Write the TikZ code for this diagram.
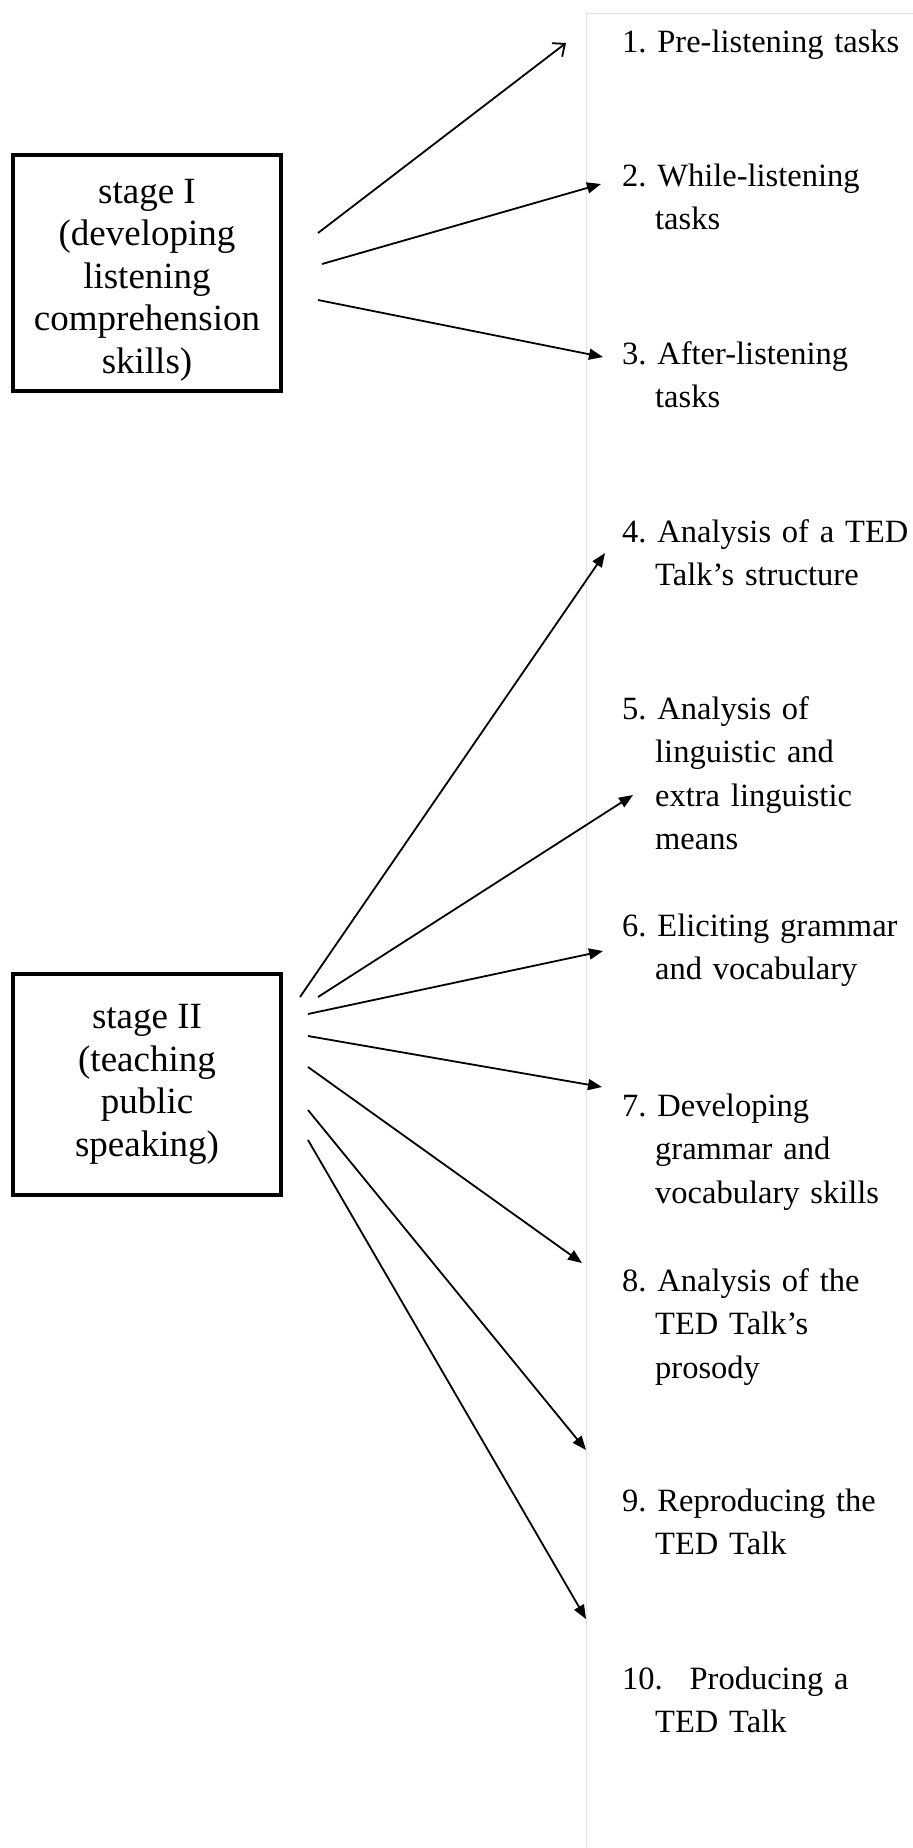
\documentclass[tikz,border=0pt]{standalone}
\usepackage{fontspec}
\setmainfont{Liberation Serif}
\usetikzlibrary{arrows.meta}

\begin{document}
\begin{tikzpicture}[x=1pt,y=-1pt]
  \tikzset{stg/.style={draw,line width=4pt,minimum width=268pt,inner sep=0pt},
    stt/.style={inner sep=0pt,align=center,font=\fontsize{37}{42.5}\selectfont},
    itm/.style={anchor=base west,inner sep=0pt,text width=290pt,align=left,font=\fontsize{32.5}{43.5}\selectfont},
    arr/.style={line width=1.8pt,-{Triangle[length=14pt,width=11pt]}}}
  \useasboundingbox (0,0) rectangle (913,1848);
  \draw[black!12,line width=1pt] (586,1848) |- (913,13);
  \node(s1)[stg,minimum height=236pt] at (147,273) {};
  \node(l1)[stt] at ([yshift=-7pt]s1.center) {stage I\\(developing\\listening\\comprehension\\skills)};
  \node(s2)[stg,minimum height=221pt] at (147,1084.5) {};
  \node(l2)[stt] at (s2.center) {stage II\\(teaching\\public\\speaking)};
  \foreach\y/\txt[count=\i] in {52/Pre-listening tasks,186/While-listening\\tasks,364/After-listening\\tasks,
    542/Analysis of a TED\\Talk’s structure,719/Analysis of\\linguistic and\\extra linguistic\\means,
    936/Eliciting grammar\\and vocabulary,1116/Developing\\grammar and\\vocabulary skills,
    1291/Analysis of the\\TED Talk’s\\prosody,1511/Reproducing the\\TED Talk,1689/\hskip16pt Producing a\\TED Talk}
    {\node(t\i)[itm] at (622,\y) {\leftskip33pt\hskip-33pt\i.~\txt\par};}
  \coordinate(f1) at (318,233); \coordinate(e1) at (566,43);
  \draw[arr,-{Straight Barb[length=10pt,width=17pt]}] (f1) -- (e1);
  \foreach\xa/\ya/\xb/\yb[count=\i from 2] in {322/264/601/184,318/300/603/357,300/997/605/553,318/997/633/795,
    308/1014/603/951,308/1036/602/1087,308/1067/582/1263,308/1110/586/1450,308/1140/586/1619}
    {\coordinate(f\i) at (\xa,\ya); \coordinate(e\i) at (\xb,\yb); \draw[arr] (f\i) -- (e\i);}
\end{tikzpicture}
\end{document}
